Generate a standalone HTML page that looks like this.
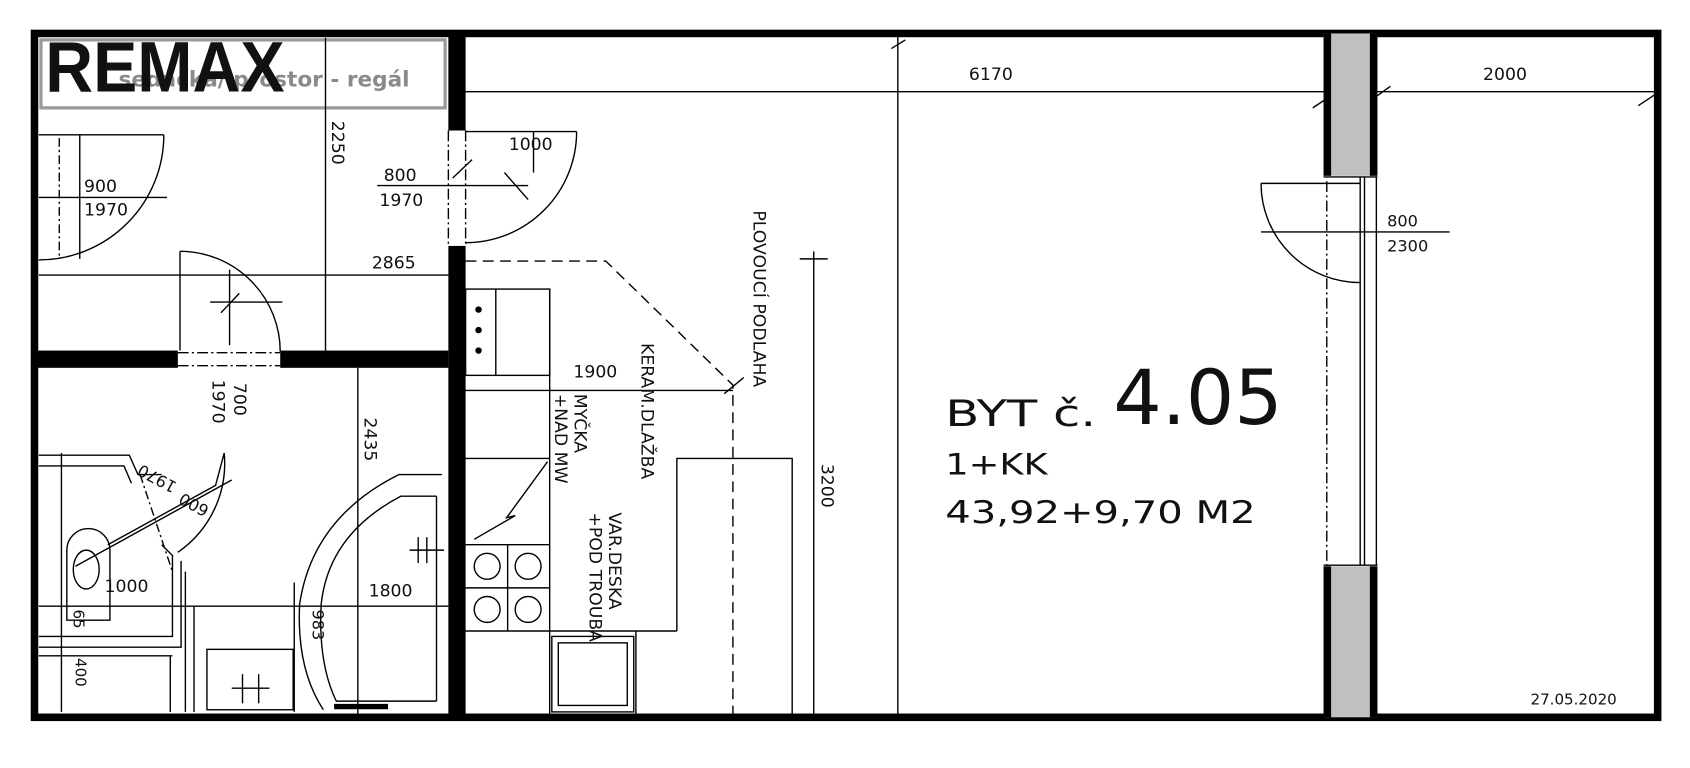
<!DOCTYPE html>
<html><head><meta charset="utf-8"><style>
html,body{margin:0;padding:0;background:#fff;width:1690px;height:768px;overflow:hidden}
svg{display:block}
text{font-family:"DejaVu Sans","Liberation Sans",sans-serif;fill:#111}
</style></head><body>
<svg width="1690" height="768" viewBox="0 0 1568 712" preserveAspectRatio="none" xmlns="http://www.w3.org/2000/svg">
<g fill="none" stroke="#000" stroke-width="1.3">
<rect x="32" y="31" width="1506" height="634" stroke-width="7"/>
<rect x="416" y="31" width="16" height="90" fill="#000" stroke="none"/>
<rect x="416" y="228" width="16" height="437" fill="#000" stroke="none"/>
<line x1="416" y1="121" x2="416" y2="228" stroke-dasharray="10,3,2,3"/>
<line x1="432" y1="121" x2="432" y2="228" stroke-dasharray="10,3,2,3"/>
<rect x="32" y="325" width="133" height="16" fill="#000" stroke="none"/>
<rect x="260" y="325" width="156" height="16" fill="#000" stroke="none"/>
<line x1="165" y1="327" x2="260" y2="327" stroke-dasharray="10,3,2,3"/>
<line x1="165" y1="339" x2="260" y2="339" stroke-dasharray="10,3,2,3"/>
<rect x="38" y="37" width="375" height="63" stroke="#9a9a9a" stroke-width="3"/>
<line x1="302" y1="35" x2="302" y2="325"/>
<line x1="36" y1="255" x2="416" y2="255"/>
<line x1="36" y1="125" x2="152" y2="125"/>
<path d="M152 125 A116 116 0 0 1 36 241"/>
<line x1="74" y1="125" x2="74" y2="240"/>
<line x1="55" y1="128" x2="55" y2="240" stroke-dasharray="8,3,2,3"/>
<line x1="36" y1="183" x2="155" y2="183"/>
<line x1="167" y1="233" x2="167" y2="325"/>
<path d="M167 233 A93 93 0 0 1 260 326"/>
<line x1="195" y1="280" x2="262" y2="280"/>
<line x1="213" y1="250" x2="213" y2="320"/>
<line x1="205" y1="290" x2="222" y2="272"/>
<line x1="432" y1="122" x2="535" y2="122"/>
<path d="M535 122 A103 103 0 0 1 432 225"/>
<line x1="495" y1="122" x2="495" y2="160"/>
<line x1="350" y1="172" x2="490" y2="172"/>
<line x1="468" y1="160" x2="490" y2="185"/>
<line x1="420" y1="165" x2="438" y2="148"/>
<line x1="432" y1="85" x2="1535" y2="85"/>
<line x1="833" y1="31" x2="833" y2="665"/>
<line x1="827" y1="45" x2="840" y2="37"/>
<line x1="1218" y1="100" x2="1236" y2="88"/>
<line x1="1265" y1="98" x2="1290" y2="80"/>
<line x1="1520" y1="98" x2="1535" y2="88"/>
<rect x="1228" y="31" width="50" height="132" fill="#c0c0c0" stroke="none"/>
<rect x="1228" y="525" width="50" height="140" fill="#c0c0c0" stroke="none"/>
<rect x="1228" y="31" width="7" height="132" fill="#000" stroke="none"/>
<rect x="1271" y="31" width="7" height="132" fill="#000" stroke="none"/>
<rect x="1228" y="525" width="7" height="140" fill="#000" stroke="none"/>
<rect x="1271" y="525" width="7" height="140" fill="#000" stroke="none"/>
<line x1="1228" y1="164" x2="1278" y2="164"/>
<line x1="1228" y1="524" x2="1278" y2="524"/>
<line x1="1262" y1="164" x2="1262" y2="524"/>
<line x1="1266" y1="164" x2="1266" y2="524"/>
<line x1="1277" y1="164" x2="1277" y2="524"/>
<line x1="1231" y1="168" x2="1231" y2="524" stroke-dasharray="10,3,2,3"/>
<line x1="1170" y1="170" x2="1262" y2="170"/>
<path d="M1170 170 A92 92 0 0 0 1262 262"/>
<line x1="1170" y1="215" x2="1345" y2="215"/>
<polyline points="432,242 562,242 680,357 680,665" stroke-dasharray="10,6"/>
<rect x="432" y="268" width="78" height="80"/>
<line x1="460" y1="268" x2="460" y2="348"/>
<line x1="432" y1="362" x2="680" y2="362"/>
<line x1="510" y1="268" x2="510" y2="665"/>
<line x1="432" y1="425" x2="510" y2="425"/>
<line x1="432" y1="505" x2="510" y2="505"/>
<line x1="432" y1="585" x2="628" y2="585"/>
<line x1="471" y1="505" x2="471" y2="585"/>
<line x1="432" y1="545" x2="510" y2="545"/>
<circle cx="452" cy="525" r="12"/><circle cx="490" cy="525" r="12"/>
<circle cx="452" cy="565" r="12"/><circle cx="490" cy="565" r="12"/>
<rect x="512" y="590" width="76" height="70"/>
<rect x="518" y="596" width="64" height="58"/>
<line x1="590" y1="585" x2="590" y2="665"/>
<polyline points="628,585 628,425 735,425 735,665"/>
<polyline points="508,428 470,480 478,478 440,500"/>
<line x1="755" y1="233" x2="755" y2="665"/>
<line x1="742" y1="240" x2="768" y2="240"/>
<line x1="672" y1="365" x2="690" y2="350"/>
<line x1="332" y1="341" x2="332" y2="665"/>
<line x1="36" y1="562" x2="416" y2="562"/>
<path d="M410 440 L370 440 Q290 480 278 560 Q275 620 300 658"/>
<path d="M405 460 L372 460 Q305 495 298 560 Q295 615 312 650 L405 650"/>
<line x1="405" y1="460" x2="405" y2="650"/>
<line x1="380" y1="510" x2="412" y2="510"/>
<line x1="388" y1="498" x2="388" y2="522"/><line x1="396" y1="498" x2="396" y2="522"/>
<rect x="192" y="602" width="80" height="56"/>
<line x1="225" y1="625" x2="225" y2="652"/><line x1="240" y1="625" x2="240" y2="652"/>
<line x1="215" y1="638" x2="250" y2="638"/>
<line x1="180" y1="562" x2="180" y2="660"/>
<line x1="172" y1="530" x2="172" y2="660"/>
<line x1="273" y1="540" x2="273" y2="660"/>
<polyline points="36,422 120,422 128,440 150,440"/>
<polyline points="36,432 115,432 122,448"/>
<polyline points="36,590 160,590 160,515 150,505"/>
<polyline points="36,600 168,600 168,520"/>
<path d="M62 545 L62 510 A20 20 0 0 1 102 510 L102 575 L62 575 Z"/>
<ellipse cx="80" cy="528" rx="12" ry="18"/>
<line x1="57" y1="420" x2="57" y2="660"/>
<line x1="36" y1="608" x2="160" y2="608"/>
<line x1="158" y1="608" x2="158" y2="660"/>
<path d="M100 505 L200 450 L208 420 A100 100 0 0 1 165 512"/>
<line x1="70" y1="525" x2="215" y2="445"/>
<line x1="130" y1="440" x2="160" y2="530" stroke-dasharray="8,3,2,3"/>
<line x1="310" y1="655" x2="360" y2="655" stroke-width="5"/>
</g>
<text x="110" y="80" font-size="20" font-weight="bold" textLength="270" lengthAdjust="spacingAndGlyphs" style="fill:#8a8a8a">sedačka/ prostor - regál</text>
<text x="42" y="85" font-size="66" font-weight="bold" textLength="222" lengthAdjust="spacingAndGlyphs" style="font-family:'Liberation Sans',sans-serif">REMAX</text>
<text x="899" y="74" font-size="16">6170</text>
<text x="1376" y="74" font-size="16">2000</text>
<text x="1287" y="210" font-size="15">800</text>
<text x="1287" y="233" font-size="15">2300</text>
<text x="78" y="178" font-size="16">900</text>
<text x="78" y="200" font-size="16">1970</text>
<text x="345" y="249" font-size="16">2865</text>
<text x="356" y="168" font-size="16">800</text>
<text x="352" y="191" font-size="16">1970</text>
<text x="472" y="139" font-size="16">1000</text>
<text x="532" y="350" font-size="16">1900</text>
<text x="342" y="553" font-size="16">1800</text>
<text x="97" y="549" font-size="16">1000</text>
<text transform="translate(308,112) rotate(90)" font-size="16">2250</text>
<text transform="translate(217,355) rotate(90)" font-size="16">700</text>
<text transform="translate(197,352) rotate(90)" font-size="16">1970</text>
<text transform="translate(338,387) rotate(90)" font-size="16">2435</text>
<text transform="translate(762,430) rotate(90)" font-size="16">3200</text>
<text transform="translate(290,565) rotate(90)" font-size="15">983</text>
<text transform="translate(70,610) rotate(90)" font-size="14">400</text>
<text transform="translate(68,565) rotate(90)" font-size="14">65</text>
<text transform="translate(165,448) rotate(-152)" font-size="15">1970</text>
<text transform="translate(195,470) rotate(-152)" font-size="15">600</text>
<text transform="translate(699,195) rotate(90)" font-size="16">PLOVOUCÍ PODLAHA</text>
<text transform="translate(595,318) rotate(90)" font-size="16">KERAM.DLAŽBA</text>
<text transform="translate(533,365) rotate(90)" font-size="16">MYČKA</text>
<text transform="translate(515,365) rotate(90)" font-size="16">+NAD MW</text>
<text transform="translate(565,475) rotate(90)" font-size="16">VAR.DESKA</text>
<text transform="translate(547,475) rotate(90)" font-size="16">+POD TROUBA</text>
<text x="877" y="395" font-size="34" textLength="140" lengthAdjust="spacingAndGlyphs">BYT č.</text>
<text x="1033" y="393" font-size="70" textLength="157" lengthAdjust="spacingAndGlyphs">4.05</text>
<text x="877" y="440" font-size="27" textLength="95" lengthAdjust="spacingAndGlyphs">1+KK</text>
<text x="877" y="485" font-size="29" textLength="288" lengthAdjust="spacingAndGlyphs">43,92+9,70  M2</text>
<text x="1420" y="653" font-size="14">27.05.2020</text>
<g fill="#000"><circle cx="444" cy="287" r="3"/><circle cx="444" cy="306" r="3"/><circle cx="444" cy="325" r="3"/></g>
</svg>
</body></html>
